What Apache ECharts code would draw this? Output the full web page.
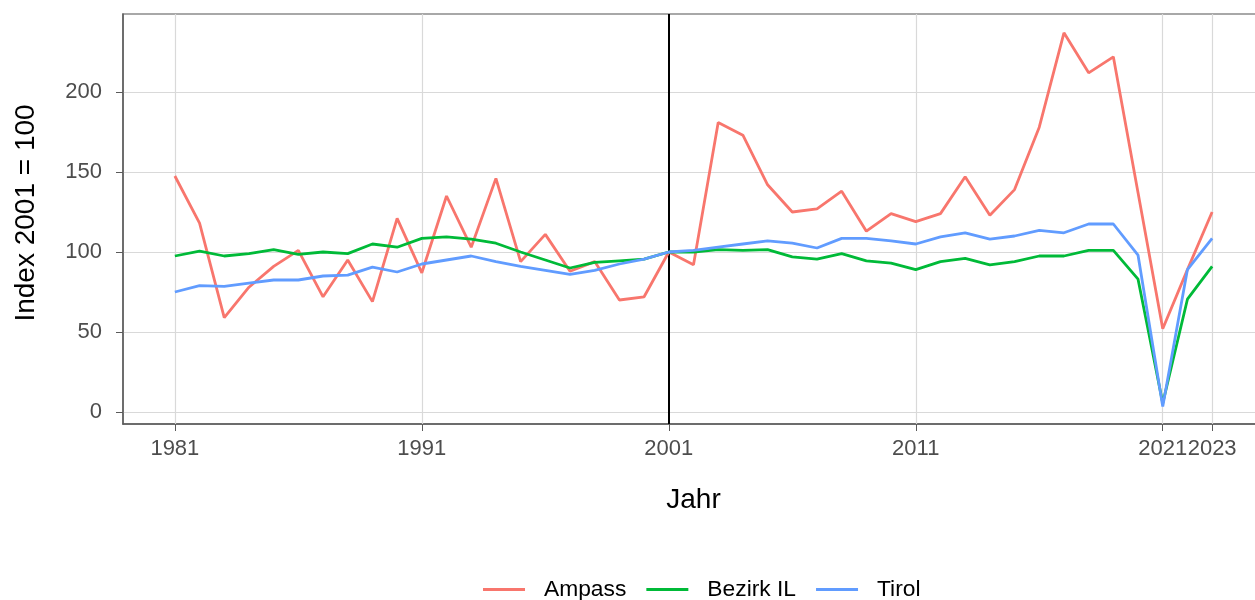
<!DOCTYPE html>
<html>
<head>
<meta charset="utf-8">
<script src="https://cdn.jsdelivr.net/npm/echarts@6/dist/echarts.min.js"></script>
<style>
  html, body { margin: 0; padding: 0; background: #fff; }
  #chart { width: 1255px; height: 600px; }
</style>
</head>
<body>
<div id="chart"></div>
<script>
// Jahre und Indexwerte (2001 = 100)
const years = [1981, 1982, 1983, 1984, 1985, 1986, 1987, 1988, 1989, 1990,
  1991, 1992, 1993, 1994, 1995, 1996, 1997, 1998, 1999, 2000,
  2001, 2002, 2003, 2004, 2005, 2006, 2007, 2008, 2009, 2010,
  2011, 2012, 2013, 2014, 2015, 2016, 2017, 2018, 2019, 2020,
  2021, 2022, 2023];
const ampass = [147.5, 118, 59, 78, 91, 101, 72, 95, 69, 121,
  87, 135, 103, 146, 94, 111, 88, 94, 70, 72,
  100, 92, 181, 173, 142, 125, 127, 138, 113, 124,
  119, 124, 147, 123, 139, 178, 237, 212, 222, 137,
  52, 89, 125];
const bezirkIL = [97.5, 100.5, 97.5, 99, 101.5, 98.5, 100, 99, 105, 103,
  108.5, 109.5, 108, 105.5, 100, 95, 90, 93.5, 94.5, 95.5,
  100, 100, 101.5, 101, 101.5, 97, 95.5, 99, 94.5, 93,
  89, 94, 96, 92, 94, 97.5, 97.5, 101, 101, 83,
  5.5, 70.5, 91];
const tirol = [75, 79, 78.5, 80.5, 82.5, 82.5, 85, 85.5, 90.5, 87.5,
  92.5, 95, 97.5, 94, 91, 88.5, 86, 88.5, 92.5, 95.5,
  100, 101, 103, 105, 107, 105.5, 102.5, 108.5, 108.5, 107,
  105, 109.5, 112, 108, 110, 113.5, 112, 117.5, 117.5, 98,
  3.5, 89, 108.5];
const xBreaks = [1981, 1991, 2001, 2011, 2021, 2023];
const yBreaks = [0, 50, 100, 150, 200];
const refYear = 2001;

const pairs = (vals) => years.map((y, i) => [y, vals[i]]);

const chart = echarts.init(document.getElementById("chart"));
const font = "Liberation Sans, Arial, sans-serif";

const option = {
  animation: false,
  textStyle: { fontFamily: font },
  grid: [
    // Hauptpanel (rechter Rand liegt ausserhalb des Bildes)
    { left: 123, top: 14, width: 1141, height: 410, show: true, outerBoundsMode: "none",
      borderColor: "#8c8c8c", borderWidth: 1.5, backgroundColor: "transparent" },
    // nur fuer die y-Skala (0 .. oben)
    { left: 123, top: 14, width: 1141, height: 398, outerBoundsMode: "none" },
  ],
  legend: {
    data: ["Ampass", "Bezirk IL", "Tirol"],
    left: 478,
    top: 573,
    icon: "rect",
    itemWidth: 42,
    itemHeight: 3,
    itemGap: 20,
    textStyle: { fontSize: 22.8, color: "#000", padding: [0, 0, 0, 14] },
  },
  xAxis: [
    {
      type: "value",
      gridIndex: 0,
      min: 1978.9,
      max: 2025.1,
      name: "Jahr",
      nameLocation: "middle",
      nameGap: 62,
      nameTextStyle: { fontSize: 28, color: "#000" },
      axisLine: { show: true, onZero: false, lineStyle: { color: "#5a5a5a", width: 1.5 } },
      axisTick: { show: true, customValues: xBreaks, length: 7, lineStyle: { color: "#5a5a5a" } },
      axisLabel: { customValues: xBreaks, fontSize: 22, color: "#4d4d4d", margin: 14, hideOverlap: false,
        formatter: (v) => String(v) },
      splitLine: { show: false },
    },
    { type: "value", gridIndex: 1, min: 1978.9, max: 2025.1, show: false },
  ],
  yAxis: [
    {
      type: "value",
      gridIndex: 0,
      min: -7.5,
      max: 248.75,
      axisLine: { show: true, onZero: false, lineStyle: { color: "#5a5a5a", width: 1.5 } },
      axisTick: { show: false },
      axisLabel: { show: false },
      splitLine: { show: false },
    },
    {
      type: "value",
      gridIndex: 1,
      min: 0,
      max: 248.75,
      interval: 25,
      name: "Index 2001 = 100",
      nameLocation: "middle",
      nameGap: 83,
      nameTextStyle: { fontSize: 28, color: "#000" },
      axisLine: { show: false, onZero: false },
      axisTick: { show: true, customValues: yBreaks, length: 7, lineStyle: { color: "#5a5a5a" } },
      axisLabel: { customValues: yBreaks, fontSize: 22, color: "#4d4d4d", margin: 21,
        formatter: (v) => String(v) },
      splitLine: { show: true, lineStyle: { color: "#d9d9d9", width: 1.2 } },
    },
  ],
  series: [
    {
      name: "Ampass",
      type: "line",
      xAxisIndex: 0,
      yAxisIndex: 0,
      data: pairs(ampass),
      showSymbol: false,
      symbol: "none",
      lineStyle: { color: "#F8766D", width: 2.8 },
      itemStyle: { color: "#F8766D" },
      z: 4,
      markLine: {
        silent: true,
        symbol: "none",
        z: 1,
        label: { show: false },
        data: xBreaks.filter((b) => b !== refYear).map((b) => ({
          xAxis: b, lineStyle: { color: "#d9d9d9", width: 1.2, type: "solid" },
        })).concat([{ xAxis: refYear, lineStyle: { color: "#000", width: 2, type: "solid" } }]),
      },
    },
    {
      name: "Bezirk IL",
      type: "line",
      xAxisIndex: 0,
      yAxisIndex: 0,
      data: pairs(bezirkIL),
      showSymbol: false,
      symbol: "none",
      lineStyle: { color: "#00BA38", width: 2.8 },
      itemStyle: { color: "#00BA38" },
      z: 4,
    },
    {
      name: "Tirol",
      type: "line",
      xAxisIndex: 0,
      yAxisIndex: 0,
      data: pairs(tirol),
      showSymbol: false,
      symbol: "none",
      lineStyle: { color: "#619CFF", width: 2.8 },
      itemStyle: { color: "#619CFF" },
      z: 4,
    },
  ],
};

chart.setOption(option);
</script>
</body>
</html>
